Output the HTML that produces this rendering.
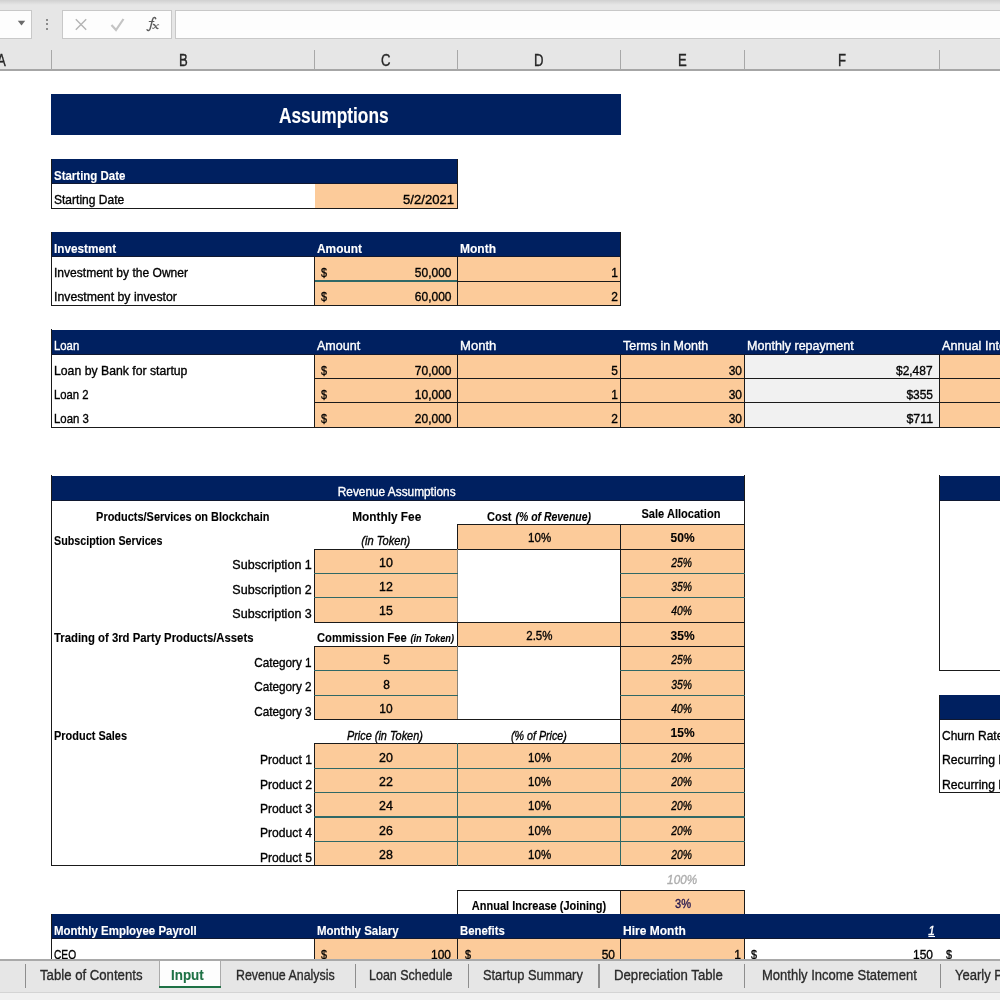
<!DOCTYPE html>
<html><head><meta charset="utf-8"><title>Assumptions</title>
<style>
html,body{margin:0;padding:0;background:#fff;}
body{width:1000px;height:1000px;position:relative;overflow:hidden;font-family:"Liberation Sans",sans-serif;}
#wrap{position:absolute;left:-30px;top:-30px;width:1060px;height:1060px;background:#fff;filter:blur(0.4px);overflow:hidden;}
#sheet,#top,#tabs{position:absolute;left:30px;top:30px;width:1030px;height:1030px;}
#sheet div,#top div,#tabs div,svg{position:absolute;}
.t{white-space:pre;-webkit-text-stroke:0.35px currentColor;}
.tb{-webkit-text-stroke:0.12px currentColor;}
.fx{white-space:pre;-webkit-text-stroke:0.2px currentColor;}
</style></head><body>
<div id="wrap">
<div id="sheet">
<div style="left:51.20px;top:94.20px;width:569.60px;height:40.80px;background:#002060;"></div>
<div class="t tb" style="top:104px;font-size:21.4px;line-height:24px;height:24px;font-weight:bold;font-style:normal;color:#fff;white-space:pre;left:266.32px;width:135.55px;text-align:center;transform:scaleX(0.8100);transform-origin:50% 0;">Assumptions</div>
<div style="left:51.50px;top:159.30px;width:406.00px;height:24.36px;background:#002060;"></div>
<div style="left:314.50px;top:183.66px;width:143.00px;height:24.36px;background:#FCCB9A;"></div>
<div class="t tb" style="top:169px;font-size:12.6px;line-height:14px;height:14px;font-weight:bold;font-style:normal;color:#fff;white-space:pre;left:53.80px;transform:scaleX(0.9118);transform-origin:0 0;">Starting Date</div>
<div class="t" style="top:193px;font-size:12.6px;line-height:14px;height:14px;font-weight:normal;font-style:normal;color:#000;white-space:pre;left:53.80px;transform:scaleX(0.9546);transform-origin:0 0;">Starting Date</div>
<div class="t" style="top:193px;font-size:12.6px;line-height:14px;height:14px;font-weight:normal;font-style:normal;color:#000;white-space:pre;right:575.50px;transform:scaleX(1.0398);transform-origin:100% 0;">5/2/2021</div>
<div style="left:51.00px;top:207.52px;width:407.00px;height:1.00px;background:#1a1a1a;"></div>
<div style="left:51.00px;top:158.80px;width:1.00px;height:49.72px;background:#1a1a1a;"></div>
<div style="left:457.00px;top:158.80px;width:1.00px;height:49.72px;background:#1a1a1a;"></div>
<div style="left:51.00px;top:183.16px;width:407.00px;height:1.00px;background:#101830;"></div>
<div style="left:51.50px;top:232.38px;width:569.00px;height:24.36px;background:#002060;"></div>
<div style="left:314.50px;top:256.74px;width:306.00px;height:48.72px;background:#FCCB9A;"></div>
<div class="t tb" style="top:242px;font-size:12.6px;line-height:14px;height:14px;font-weight:bold;font-style:normal;color:#fff;white-space:pre;left:53.90px;transform:scaleX(0.9335);transform-origin:0 0;">Investment</div>
<div class="t tb" style="top:242px;font-size:12.6px;line-height:14px;height:14px;font-weight:bold;font-style:normal;color:#fff;white-space:pre;left:316.50px;transform:scaleX(0.9456);transform-origin:0 0;">Amount</div>
<div class="t tb" style="top:242px;font-size:12.6px;line-height:14px;height:14px;font-weight:bold;font-style:normal;color:#fff;white-space:pre;left:460.00px;transform:scaleX(0.9554);transform-origin:0 0;">Month</div>
<div class="t" style="top:266px;font-size:12.6px;line-height:14px;height:14px;font-weight:normal;font-style:normal;color:#000;white-space:pre;left:53.90px;transform:scaleX(0.9574);transform-origin:0 0;">Investment by the Owner</div>
<div class="t" style="top:266px;font-size:12.6px;line-height:14px;height:14px;font-weight:normal;font-style:normal;color:#000;white-space:pre;left:320.50px;transform:scaleX(0.8562);transform-origin:0 0;">$</div>
<div class="t" style="top:266px;font-size:12.6px;line-height:14px;height:14px;font-weight:normal;font-style:normal;color:#000;white-space:pre;right:578.80px;transform:scaleX(0.9523);transform-origin:100% 0;">50,000</div>
<div class="t" style="top:266px;font-size:12.6px;line-height:14px;height:14px;font-weight:normal;font-style:normal;color:#000;white-space:pre;right:412.20px;transform:scaleX(0.9496);transform-origin:100% 0;">1</div>
<div class="t" style="top:290px;font-size:12.6px;line-height:14px;height:14px;font-weight:normal;font-style:normal;color:#000;white-space:pre;left:53.90px;transform:scaleX(0.9757);transform-origin:0 0;">Investment by investor</div>
<div class="t" style="top:290px;font-size:12.6px;line-height:14px;height:14px;font-weight:normal;font-style:normal;color:#000;white-space:pre;left:320.50px;transform:scaleX(0.8562);transform-origin:0 0;">$</div>
<div class="t" style="top:290px;font-size:12.6px;line-height:14px;height:14px;font-weight:normal;font-style:normal;color:#000;white-space:pre;right:578.80px;transform:scaleX(0.9523);transform-origin:100% 0;">60,000</div>
<div class="t" style="top:290px;font-size:12.6px;line-height:14px;height:14px;font-weight:normal;font-style:normal;color:#000;white-space:pre;right:412.20px;transform:scaleX(0.9496);transform-origin:100% 0;">2</div>
<div style="left:314.00px;top:280.48px;width:144.00px;height:1.25px;background:#2f6866;"></div>
<div style="left:457.00px;top:280.60px;width:164.00px;height:1.00px;background:#1a1a1a;"></div>
<div style="left:314.00px;top:256.24px;width:1.00px;height:49.72px;background:#1a1a1a;"></div>
<div style="left:457.00px;top:256.24px;width:1.00px;height:49.72px;background:#1a1a1a;"></div>
<div style="left:51.00px;top:304.96px;width:570.00px;height:1.00px;background:#1a1a1a;"></div>
<div style="left:51.00px;top:231.88px;width:1.00px;height:74.08px;background:#1a1a1a;"></div>
<div style="left:620.00px;top:231.88px;width:1.00px;height:74.08px;background:#1a1a1a;"></div>
<div style="left:51.00px;top:256.24px;width:570.00px;height:1.00px;background:#101830;"></div>
<div style="left:51.50px;top:329.82px;width:978.50px;height:24.36px;background:#002060;"></div>
<div style="left:314.50px;top:354.18px;width:430.00px;height:73.08px;background:#FCCB9A;"></div>
<div style="left:744.50px;top:354.18px;width:195.00px;height:73.08px;background:#F1F1F1;"></div>
<div style="left:939.50px;top:354.18px;width:90.50px;height:73.08px;background:#FCCB9A;"></div>
<div class="t" style="top:339px;font-size:12.6px;line-height:14px;height:14px;font-weight:normal;font-style:normal;color:#fff;white-space:pre;left:53.90px;transform:scaleX(0.8990);transform-origin:0 0;">Loan</div>
<div class="t" style="top:339px;font-size:12.6px;line-height:14px;height:14px;font-weight:normal;font-style:normal;color:#fff;white-space:pre;left:316.50px;transform:scaleX(0.9949);transform-origin:0 0;">Amount</div>
<div class="t" style="top:339px;font-size:12.6px;line-height:14px;height:14px;font-weight:normal;font-style:normal;color:#fff;white-space:pre;left:460.00px;transform:scaleX(1.0378);transform-origin:0 0;">Month</div>
<div class="t" style="top:339px;font-size:12.6px;line-height:14px;height:14px;font-weight:normal;font-style:normal;color:#fff;white-space:pre;left:622.50px;transform:scaleX(0.9907);transform-origin:0 0;">Terms in Month</div>
<div class="t" style="top:339px;font-size:12.6px;line-height:14px;height:14px;font-weight:normal;font-style:normal;color:#fff;white-space:pre;left:746.50px;transform:scaleX(0.9970);transform-origin:0 0;">Monthly repayment</div>
<div class="t" style="top:339px;font-size:12.6px;line-height:14px;height:14px;font-weight:normal;font-style:normal;color:#fff;white-space:pre;left:942.10px;transform:scaleX(1.0046);transform-origin:0 0;">Annual Interest</div>
<div class="t" style="top:364px;font-size:12.6px;line-height:14px;height:14px;font-weight:normal;font-style:normal;color:#000;white-space:pre;left:53.90px;transform:scaleX(0.9724);transform-origin:0 0;">Loan by Bank for startup</div>
<div class="t" style="top:364px;font-size:12.6px;line-height:14px;height:14px;font-weight:normal;font-style:normal;color:#000;white-space:pre;left:320.50px;transform:scaleX(0.8562);transform-origin:0 0;">$</div>
<div class="t" style="top:364px;font-size:12.6px;line-height:14px;height:14px;font-weight:normal;font-style:normal;color:#000;white-space:pre;right:578.80px;transform:scaleX(0.9523);transform-origin:100% 0;">70,000</div>
<div class="t" style="top:364px;font-size:12.6px;line-height:14px;height:14px;font-weight:normal;font-style:normal;color:#000;white-space:pre;right:412.20px;transform:scaleX(0.9496);transform-origin:100% 0;">5</div>
<div class="t" style="top:364px;font-size:12.6px;line-height:14px;height:14px;font-weight:normal;font-style:normal;color:#000;white-space:pre;right:288.20px;transform:scaleX(0.9496);transform-origin:100% 0;">30</div>
<div class="t" style="top:364px;font-size:12.6px;line-height:14px;height:14px;font-weight:normal;font-style:normal;color:#000;white-space:pre;right:97.10px;transform:scaleX(0.9484);transform-origin:100% 0;">$2,487</div>
<div class="t" style="top:388px;font-size:12.6px;line-height:14px;height:14px;font-weight:normal;font-style:normal;color:#000;white-space:pre;left:53.90px;transform:scaleX(0.8952);transform-origin:0 0;">Loan 2</div>
<div class="t" style="top:388px;font-size:12.6px;line-height:14px;height:14px;font-weight:normal;font-style:normal;color:#000;white-space:pre;left:320.50px;transform:scaleX(0.8562);transform-origin:0 0;">$</div>
<div class="t" style="top:388px;font-size:12.6px;line-height:14px;height:14px;font-weight:normal;font-style:normal;color:#000;white-space:pre;right:578.80px;transform:scaleX(0.9523);transform-origin:100% 0;">10,000</div>
<div class="t" style="top:388px;font-size:12.6px;line-height:14px;height:14px;font-weight:normal;font-style:normal;color:#000;white-space:pre;right:412.20px;transform:scaleX(0.9496);transform-origin:100% 0;">1</div>
<div class="t" style="top:388px;font-size:12.6px;line-height:14px;height:14px;font-weight:normal;font-style:normal;color:#000;white-space:pre;right:288.20px;transform:scaleX(0.9496);transform-origin:100% 0;">30</div>
<div class="t" style="top:388px;font-size:12.6px;line-height:14px;height:14px;font-weight:normal;font-style:normal;color:#000;white-space:pre;right:97.10px;transform:scaleX(0.9496);transform-origin:100% 0;">$355</div>
<div class="t" style="top:412px;font-size:12.6px;line-height:14px;height:14px;font-weight:normal;font-style:normal;color:#000;white-space:pre;left:53.90px;transform:scaleX(0.9030);transform-origin:0 0;">Loan 3</div>
<div class="t" style="top:412px;font-size:12.6px;line-height:14px;height:14px;font-weight:normal;font-style:normal;color:#000;white-space:pre;left:320.50px;transform:scaleX(0.8562);transform-origin:0 0;">$</div>
<div class="t" style="top:412px;font-size:12.6px;line-height:14px;height:14px;font-weight:normal;font-style:normal;color:#000;white-space:pre;right:578.80px;transform:scaleX(0.9523);transform-origin:100% 0;">20,000</div>
<div class="t" style="top:412px;font-size:12.6px;line-height:14px;height:14px;font-weight:normal;font-style:normal;color:#000;white-space:pre;right:412.20px;transform:scaleX(0.9496);transform-origin:100% 0;">2</div>
<div class="t" style="top:412px;font-size:12.6px;line-height:14px;height:14px;font-weight:normal;font-style:normal;color:#000;white-space:pre;right:288.20px;transform:scaleX(0.9496);transform-origin:100% 0;">30</div>
<div class="t" style="top:412px;font-size:12.6px;line-height:14px;height:14px;font-weight:normal;font-style:normal;color:#000;white-space:pre;right:97.10px;transform:scaleX(0.9824);transform-origin:100% 0;">$711</div>
<div style="left:314.00px;top:378.04px;width:716.50px;height:1.00px;background:#1a1a1a;"></div>
<div style="left:314.00px;top:402.40px;width:716.50px;height:1.00px;background:#1a1a1a;"></div>
<div style="left:314.00px;top:353.68px;width:1.00px;height:74.08px;background:#1a1a1a;"></div>
<div style="left:457.00px;top:353.68px;width:1.00px;height:74.08px;background:#1a1a1a;"></div>
<div style="left:620.00px;top:353.68px;width:1.00px;height:74.08px;background:#1a1a1a;"></div>
<div style="left:744.00px;top:353.68px;width:1.00px;height:74.08px;background:#1a1a1a;"></div>
<div style="left:939.00px;top:353.68px;width:1.00px;height:74.08px;background:#1a1a1a;"></div>
<div style="left:51.00px;top:426.76px;width:979.50px;height:1.00px;background:#1a1a1a;"></div>
<div style="left:51.00px;top:329.32px;width:1.00px;height:98.44px;background:#1a1a1a;"></div>
<div style="left:51.00px;top:353.68px;width:979.50px;height:1.00px;background:#101830;"></div>
<div style="left:51.50px;top:475.98px;width:693.00px;height:24.36px;background:#002060;"></div>
<div class="t" style="top:485px;font-size:12.6px;line-height:14px;height:14px;font-weight:normal;font-style:normal;color:#fff;white-space:pre;left:333.81px;width:125.38px;text-align:center;transform:scaleX(0.9407);transform-origin:50% 0;">Revenue Assumptions</div>
<div style="left:457.50px;top:524.70px;width:287.00px;height:24.36px;background:#FCCB9A;"></div>
<div style="left:314.50px;top:549.06px;width:143.00px;height:73.08px;background:#FCCB9A;"></div>
<div style="left:620.50px;top:549.06px;width:124.00px;height:73.08px;background:#FCCB9A;"></div>
<div style="left:457.50px;top:622.14px;width:287.00px;height:24.36px;background:#FCCB9A;"></div>
<div style="left:314.50px;top:646.50px;width:143.00px;height:73.08px;background:#FCCB9A;"></div>
<div style="left:620.50px;top:646.50px;width:124.00px;height:73.08px;background:#FCCB9A;"></div>
<div style="left:620.50px;top:719.58px;width:124.00px;height:24.36px;background:#FCCB9A;"></div>
<div style="left:314.50px;top:743.94px;width:430.00px;height:121.80px;background:#FCCB9A;"></div>
<div class="t tb" style="top:510px;font-size:12.6px;line-height:14px;height:14px;font-weight:bold;font-style:normal;color:#000;white-space:pre;left:83.31px;width:199.57px;text-align:center;transform:scaleX(0.8688);transform-origin:50% 0;">Products/Services on Blockchain</div>
<div class="t tb" style="top:510px;font-size:12.6px;line-height:14px;height:14px;font-weight:bold;font-style:normal;color:#000;white-space:pre;left:349.75px;width:73.50px;text-align:center;transform:scaleX(0.9387);transform-origin:50% 0;">Monthly Fee</div>
<div class="t tb" style="top:510px;font-size:12.6px;line-height:14px;height:14px;font-weight:bold;font-style:normal;color:#000;white-space:pre;left:486.70px;transform:scaleX(0.8750);transform-origin:0 0;">Cost</div>
<div class="t tb" style="top:510px;font-size:12.6px;line-height:14px;height:14px;font-weight:bold;font-style:italic;color:#000;white-space:pre;right:438.80px;transform:scaleX(0.8295);transform-origin:100% 0;">(% of Revenue)</div>
<div class="t tb" style="top:507px;font-size:12.6px;line-height:14px;height:14px;font-weight:bold;font-style:normal;color:#000;white-space:pre;left:636.37px;width:89.86px;text-align:center;transform:scaleX(0.8792);transform-origin:50% 0;">Sale Allocation</div>
<div class="t tb" style="top:534px;font-size:12.6px;line-height:14px;height:14px;font-weight:bold;font-style:normal;color:#000;white-space:pre;left:53.90px;transform:scaleX(0.8521);transform-origin:0 0;">Subsciption Services</div>
<div class="t" style="top:534px;font-size:12.6px;line-height:14px;height:14px;font-weight:normal;font-style:italic;color:#000;white-space:pre;left:358.02px;width:55.56px;text-align:center;transform:scaleX(0.8819);transform-origin:50% 0;">(in Token)</div>
<div class="t" style="top:531px;font-size:12.6px;line-height:14px;height:14px;font-weight:normal;font-style:normal;color:#000;white-space:pre;left:527.39px;width:25.22px;text-align:center;transform:scaleX(0.9120);transform-origin:50% 0;">10%</div>
<div class="t tb" style="top:531px;font-size:12.6px;line-height:14px;height:14px;font-weight:bold;font-style:normal;color:#000;white-space:pre;left:670.09px;width:25.22px;text-align:center;transform:scaleX(0.9517);transform-origin:50% 0;">50%</div>
<div class="t" style="top:558px;font-size:12.6px;line-height:14px;height:14px;font-weight:normal;font-style:normal;color:#000;white-space:pre;right:718.10px;transform:scaleX(0.9956);transform-origin:100% 0;">Subscription 1</div>
<div class="t" style="top:556px;font-size:12.6px;line-height:14px;height:14px;font-weight:normal;font-style:normal;color:#000;white-space:pre;left:379.49px;width:14.02px;text-align:center;transform:scaleX(0.9846);transform-origin:50% 0;">10</div>
<div class="t" style="top:556px;font-size:12.6px;line-height:14px;height:14px;font-weight:normal;font-style:italic;color:#000;white-space:pre;left:669.39px;width:25.22px;text-align:center;transform:scaleX(0.8208);transform-origin:50% 0;">25%</div>
<div class="t" style="top:583px;font-size:12.6px;line-height:14px;height:14px;font-weight:normal;font-style:normal;color:#000;white-space:pre;right:718.10px;transform:scaleX(0.9956);transform-origin:100% 0;">Subscription 2</div>
<div class="t" style="top:580px;font-size:12.6px;line-height:14px;height:14px;font-weight:normal;font-style:normal;color:#000;white-space:pre;left:379.49px;width:14.02px;text-align:center;transform:scaleX(0.9846);transform-origin:50% 0;">12</div>
<div class="t" style="top:580px;font-size:12.6px;line-height:14px;height:14px;font-weight:normal;font-style:italic;color:#000;white-space:pre;left:669.39px;width:25.22px;text-align:center;transform:scaleX(0.8208);transform-origin:50% 0;">35%</div>
<div class="t" style="top:607px;font-size:12.6px;line-height:14px;height:14px;font-weight:normal;font-style:normal;color:#000;white-space:pre;right:718.10px;transform:scaleX(0.9956);transform-origin:100% 0;">Subscription 3</div>
<div class="t" style="top:604px;font-size:12.6px;line-height:14px;height:14px;font-weight:normal;font-style:normal;color:#000;white-space:pre;left:379.49px;width:14.02px;text-align:center;transform:scaleX(0.9846);transform-origin:50% 0;">15</div>
<div class="t" style="top:604px;font-size:12.6px;line-height:14px;height:14px;font-weight:normal;font-style:italic;color:#000;white-space:pre;left:669.39px;width:25.22px;text-align:center;transform:scaleX(0.8208);transform-origin:50% 0;">40%</div>
<div class="t tb" style="top:631px;font-size:12.6px;line-height:14px;height:14px;font-weight:bold;font-style:normal;color:#000;white-space:pre;left:53.90px;transform:scaleX(0.8992);transform-origin:0 0;">Trading of 3rd Party Products/Assets</div>
<div class="t tb" style="top:631px;font-size:12.6px;line-height:14px;height:14px;font-weight:bold;font-style:normal;color:#000;white-space:pre;left:316.50px;transform:scaleX(0.8897);transform-origin:0 0;">Commission Fee</div>
<div class="t tb" style="top:632px;font-size:11.2px;line-height:12px;height:12px;font-weight:bold;font-style:italic;color:#000;white-space:pre;right:576.30px;transform:scaleX(0.8231);transform-origin:100% 0;">(in Token)</div>
<div class="t" style="top:629px;font-size:12.6px;line-height:14px;height:14px;font-weight:normal;font-style:normal;color:#000;white-space:pre;left:525.04px;width:28.72px;text-align:center;transform:scaleX(0.9123);transform-origin:50% 0;">2.5%</div>
<div class="t tb" style="top:629px;font-size:12.6px;line-height:14px;height:14px;font-weight:bold;font-style:normal;color:#000;white-space:pre;left:670.09px;width:25.22px;text-align:center;transform:scaleX(0.9517);transform-origin:50% 0;">35%</div>
<div class="t" style="top:656px;font-size:12.6px;line-height:14px;height:14px;font-weight:normal;font-style:normal;color:#000;white-space:pre;right:718.10px;transform:scaleX(0.9324);transform-origin:100% 0;">Category 1</div>
<div class="t" style="top:653px;font-size:12.6px;line-height:14px;height:14px;font-weight:normal;font-style:normal;color:#000;white-space:pre;left:383.00px;width:7.01px;text-align:center;transform:scaleX(0.9496);transform-origin:50% 0;">5</div>
<div class="t" style="top:653px;font-size:12.6px;line-height:14px;height:14px;font-weight:normal;font-style:italic;color:#000;white-space:pre;left:669.39px;width:25.22px;text-align:center;transform:scaleX(0.8208);transform-origin:50% 0;">25%</div>
<div class="t" style="top:680px;font-size:12.6px;line-height:14px;height:14px;font-weight:normal;font-style:normal;color:#000;white-space:pre;right:718.10px;transform:scaleX(0.9324);transform-origin:100% 0;">Category 2</div>
<div class="t" style="top:678px;font-size:12.6px;line-height:14px;height:14px;font-weight:normal;font-style:normal;color:#000;white-space:pre;left:383.00px;width:7.01px;text-align:center;transform:scaleX(0.9496);transform-origin:50% 0;">8</div>
<div class="t" style="top:678px;font-size:12.6px;line-height:14px;height:14px;font-weight:normal;font-style:italic;color:#000;white-space:pre;left:669.39px;width:25.22px;text-align:center;transform:scaleX(0.8208);transform-origin:50% 0;">35%</div>
<div class="t" style="top:705px;font-size:12.6px;line-height:14px;height:14px;font-weight:normal;font-style:normal;color:#000;white-space:pre;right:718.10px;transform:scaleX(0.9324);transform-origin:100% 0;">Category 3</div>
<div class="t" style="top:702px;font-size:12.6px;line-height:14px;height:14px;font-weight:normal;font-style:normal;color:#000;white-space:pre;left:379.49px;width:14.02px;text-align:center;transform:scaleX(0.9496);transform-origin:50% 0;">10</div>
<div class="t" style="top:702px;font-size:12.6px;line-height:14px;height:14px;font-weight:normal;font-style:italic;color:#000;white-space:pre;left:669.39px;width:25.22px;text-align:center;transform:scaleX(0.8208);transform-origin:50% 0;">40%</div>
<div class="t tb" style="top:729px;font-size:12.6px;line-height:14px;height:14px;font-weight:bold;font-style:normal;color:#000;white-space:pre;left:53.90px;transform:scaleX(0.8699);transform-origin:0 0;">Product Sales</div>
<div class="t" style="top:729px;font-size:12.6px;line-height:14px;height:14px;font-weight:normal;font-style:italic;color:#000;white-space:pre;left:341.41px;width:87.77px;text-align:center;transform:scaleX(0.8659);transform-origin:50% 0;">Price (in Token)</div>
<div class="t" style="top:729px;font-size:12.6px;line-height:14px;height:14px;font-weight:normal;font-style:italic;color:#000;white-space:pre;left:505.79px;width:65.81px;text-align:center;transform:scaleX(0.8509);transform-origin:50% 0;">(% of Price)</div>
<div class="t tb" style="top:726px;font-size:12.6px;line-height:14px;height:14px;font-weight:bold;font-style:normal;color:#000;white-space:pre;left:670.09px;width:25.22px;text-align:center;transform:scaleX(0.9517);transform-origin:50% 0;">15%</div>
<div class="t" style="top:753px;font-size:12.6px;line-height:14px;height:14px;font-weight:normal;font-style:normal;color:#000;white-space:pre;right:718.10px;transform:scaleX(0.9642);transform-origin:100% 0;">Product 1</div>
<div class="t" style="top:751px;font-size:12.6px;line-height:14px;height:14px;font-weight:normal;font-style:normal;color:#000;white-space:pre;left:379.49px;width:14.02px;text-align:center;transform:scaleX(0.9846);transform-origin:50% 0;">20</div>
<div class="t" style="top:751px;font-size:12.6px;line-height:14px;height:14px;font-weight:normal;font-style:normal;color:#000;white-space:pre;left:527.39px;width:25.22px;text-align:center;transform:scaleX(0.9120);transform-origin:50% 0;">10%</div>
<div class="t" style="top:751px;font-size:12.6px;line-height:14px;height:14px;font-weight:normal;font-style:italic;color:#000;white-space:pre;left:669.39px;width:25.22px;text-align:center;transform:scaleX(0.8208);transform-origin:50% 0;">20%</div>
<div class="t" style="top:778px;font-size:12.6px;line-height:14px;height:14px;font-weight:normal;font-style:normal;color:#000;white-space:pre;right:718.10px;transform:scaleX(0.9642);transform-origin:100% 0;">Product 2</div>
<div class="t" style="top:775px;font-size:12.6px;line-height:14px;height:14px;font-weight:normal;font-style:normal;color:#000;white-space:pre;left:379.49px;width:14.02px;text-align:center;transform:scaleX(0.9846);transform-origin:50% 0;">22</div>
<div class="t" style="top:775px;font-size:12.6px;line-height:14px;height:14px;font-weight:normal;font-style:normal;color:#000;white-space:pre;left:527.39px;width:25.22px;text-align:center;transform:scaleX(0.9120);transform-origin:50% 0;">10%</div>
<div class="t" style="top:775px;font-size:12.6px;line-height:14px;height:14px;font-weight:normal;font-style:italic;color:#000;white-space:pre;left:669.39px;width:25.22px;text-align:center;transform:scaleX(0.8208);transform-origin:50% 0;">20%</div>
<div class="t" style="top:802px;font-size:12.6px;line-height:14px;height:14px;font-weight:normal;font-style:normal;color:#000;white-space:pre;right:718.10px;transform:scaleX(0.9642);transform-origin:100% 0;">Product 3</div>
<div class="t" style="top:799px;font-size:12.6px;line-height:14px;height:14px;font-weight:normal;font-style:normal;color:#000;white-space:pre;left:379.49px;width:14.02px;text-align:center;transform:scaleX(0.9846);transform-origin:50% 0;">24</div>
<div class="t" style="top:799px;font-size:12.6px;line-height:14px;height:14px;font-weight:normal;font-style:normal;color:#000;white-space:pre;left:527.39px;width:25.22px;text-align:center;transform:scaleX(0.9120);transform-origin:50% 0;">10%</div>
<div class="t" style="top:799px;font-size:12.6px;line-height:14px;height:14px;font-weight:normal;font-style:italic;color:#000;white-space:pre;left:669.39px;width:25.22px;text-align:center;transform:scaleX(0.8208);transform-origin:50% 0;">20%</div>
<div class="t" style="top:826px;font-size:12.6px;line-height:14px;height:14px;font-weight:normal;font-style:normal;color:#000;white-space:pre;right:718.10px;transform:scaleX(0.9642);transform-origin:100% 0;">Product 4</div>
<div class="t" style="top:824px;font-size:12.6px;line-height:14px;height:14px;font-weight:normal;font-style:normal;color:#000;white-space:pre;left:379.49px;width:14.02px;text-align:center;transform:scaleX(0.9846);transform-origin:50% 0;">26</div>
<div class="t" style="top:824px;font-size:12.6px;line-height:14px;height:14px;font-weight:normal;font-style:normal;color:#000;white-space:pre;left:527.39px;width:25.22px;text-align:center;transform:scaleX(0.9120);transform-origin:50% 0;">10%</div>
<div class="t" style="top:824px;font-size:12.6px;line-height:14px;height:14px;font-weight:normal;font-style:italic;color:#000;white-space:pre;left:669.39px;width:25.22px;text-align:center;transform:scaleX(0.8208);transform-origin:50% 0;">20%</div>
<div class="t" style="top:851px;font-size:12.6px;line-height:14px;height:14px;font-weight:normal;font-style:normal;color:#000;white-space:pre;right:718.10px;transform:scaleX(0.9642);transform-origin:100% 0;">Product 5</div>
<div class="t" style="top:848px;font-size:12.6px;line-height:14px;height:14px;font-weight:normal;font-style:normal;color:#000;white-space:pre;left:379.49px;width:14.02px;text-align:center;transform:scaleX(0.9846);transform-origin:50% 0;">28</div>
<div class="t" style="top:848px;font-size:12.6px;line-height:14px;height:14px;font-weight:normal;font-style:normal;color:#000;white-space:pre;left:527.39px;width:25.22px;text-align:center;transform:scaleX(0.9120);transform-origin:50% 0;">10%</div>
<div class="t" style="top:848px;font-size:12.6px;line-height:14px;height:14px;font-weight:normal;font-style:italic;color:#000;white-space:pre;left:669.39px;width:25.22px;text-align:center;transform:scaleX(0.8208);transform-origin:50% 0;">20%</div>
<div style="left:51.00px;top:475.48px;width:1.00px;height:390.76px;background:#1a1a1a;"></div>
<div style="left:744.00px;top:475.48px;width:1.00px;height:390.76px;background:#1a1a1a;"></div>
<div style="left:51.00px;top:865.24px;width:694.00px;height:1.00px;background:#1a1a1a;"></div>
<div style="left:51.00px;top:499.84px;width:694.00px;height:1.00px;background:#101830;"></div>
<div style="left:457.00px;top:524.20px;width:288.00px;height:1.00px;background:#1a1a1a;"></div>
<div style="left:314.00px;top:548.56px;width:431.00px;height:1.00px;background:#1a1a1a;"></div>
<div style="left:457.00px;top:524.20px;width:1.00px;height:25.36px;background:#1a1a1a;"></div>
<div style="left:620.00px;top:524.20px;width:1.00px;height:342.04px;background:#1a1a1a;"></div>
<div style="left:314.00px;top:548.56px;width:1.00px;height:74.08px;background:#1a1a1a;"></div>
<div style="left:457.00px;top:548.56px;width:1.00px;height:74.08px;background:#8a8478;"></div>
<div style="left:314.00px;top:572.80px;width:144.00px;height:1.25px;background:#2f6866;"></div>
<div style="left:620.00px;top:572.80px;width:125.00px;height:1.25px;background:#2f6866;"></div>
<div style="left:314.00px;top:597.15px;width:144.00px;height:1.25px;background:#2f6866;"></div>
<div style="left:620.00px;top:597.15px;width:125.00px;height:1.25px;background:#2f6866;"></div>
<div style="left:314.00px;top:621.64px;width:431.00px;height:1.00px;background:#1a1a1a;"></div>
<div style="left:457.00px;top:646.00px;width:288.00px;height:1.00px;background:#1a1a1a;"></div>
<div style="left:314.00px;top:646.00px;width:144.00px;height:1.00px;background:#1a1a1a;"></div>
<div style="left:457.00px;top:621.64px;width:1.00px;height:25.36px;background:#1a1a1a;"></div>
<div style="left:314.00px;top:646.00px;width:1.00px;height:74.08px;background:#1a1a1a;"></div>
<div style="left:457.00px;top:646.00px;width:1.00px;height:74.08px;background:#8a8478;"></div>
<div style="left:314.00px;top:670.24px;width:144.00px;height:1.25px;background:#2f6866;"></div>
<div style="left:620.00px;top:670.24px;width:125.00px;height:1.25px;background:#2f6866;"></div>
<div style="left:314.00px;top:694.60px;width:144.00px;height:1.25px;background:#2f6866;"></div>
<div style="left:620.00px;top:694.60px;width:125.00px;height:1.25px;background:#2f6866;"></div>
<div style="left:314.00px;top:719.08px;width:431.00px;height:1.00px;background:#1a1a1a;"></div>
<div style="left:314.00px;top:743.44px;width:431.00px;height:1.00px;background:#1a1a1a;"></div>
<div style="left:314.00px;top:743.44px;width:1.00px;height:122.80px;background:#1a1a1a;"></div>
<div style="left:456.88px;top:743.44px;width:1.25px;height:122.80px;background:#2f6866;"></div>
<div style="left:314.00px;top:767.67px;width:431.00px;height:1.25px;background:#2f6866;"></div>
<div style="left:314.00px;top:792.04px;width:431.00px;height:1.25px;background:#2f6866;"></div>
<div style="left:314.00px;top:816.39px;width:431.00px;height:1.25px;background:#2f6866;"></div>
<div style="left:314.00px;top:840.75px;width:431.00px;height:1.25px;background:#2f6866;"></div>
<div style="left:619.88px;top:743.44px;width:1.25px;height:122.80px;background:#2f6866;"></div>
<div class="t" style="top:873px;font-size:12.6px;line-height:14px;height:14px;font-weight:normal;font-style:italic;color:#adadad;white-space:pre;left:666.29px;width:32.23px;text-align:center;transform:scaleX(0.9309);transform-origin:50% 0;">100%</div>
<div style="left:620.50px;top:890.10px;width:124.00px;height:24.36px;background:#FCCB9A;"></div>
<div class="t tb" style="top:899px;font-size:12.6px;line-height:14px;height:14px;font-weight:bold;font-style:normal;color:#000;white-space:pre;left:462.19px;width:154.03px;text-align:center;transform:scaleX(0.8726);transform-origin:50% 0;">Annual Increase (Joining)</div>
<div class="t" style="top:897px;font-size:12.6px;line-height:14px;height:14px;font-weight:normal;font-style:normal;color:#24164e;white-space:pre;left:673.89px;width:18.21px;text-align:center;transform:scaleX(0.8808);transform-origin:50% 0;">3%</div>
<div style="left:457.00px;top:889.60px;width:288.00px;height:1.00px;background:#1a1a1a;"></div>
<div style="left:457.00px;top:889.60px;width:1.00px;height:25.36px;background:#1a1a1a;"></div>
<div style="left:620.00px;top:889.60px;width:1.00px;height:25.36px;background:#1a1a1a;"></div>
<div style="left:744.00px;top:889.60px;width:1.00px;height:25.36px;background:#1a1a1a;"></div>
<div style="left:51.50px;top:914.46px;width:978.50px;height:24.36px;background:#002060;"></div>
<div style="left:314.50px;top:938.82px;width:430.00px;height:36.54px;background:#FCCB9A;"></div>
<div class="t tb" style="top:924px;font-size:12.6px;line-height:14px;height:14px;font-weight:bold;font-style:normal;color:#fff;white-space:pre;left:53.90px;transform:scaleX(0.9096);transform-origin:0 0;">Monthly Employee Payroll</div>
<div class="t tb" style="top:924px;font-size:12.6px;line-height:14px;height:14px;font-weight:bold;font-style:normal;color:#fff;white-space:pre;left:316.50px;transform:scaleX(0.9109);transform-origin:0 0;">Monthly Salary</div>
<div class="t tb" style="top:924px;font-size:12.6px;line-height:14px;height:14px;font-weight:bold;font-style:normal;color:#fff;white-space:pre;left:459.70px;transform:scaleX(0.9012);transform-origin:0 0;">Benefits</div>
<div class="t tb" style="top:924px;font-size:12.6px;line-height:14px;height:14px;font-weight:bold;font-style:normal;color:#fff;white-space:pre;left:622.50px;transform:scaleX(0.9545);transform-origin:0 0;">Hire Month</div>
<div class="t" style="top:924px;font-size:12.6px;line-height:14px;height:14px;font-weight:normal;font-style:italic;color:#fff;white-space:pre;text-decoration:underline;right:94.50px;transform:scaleX(0.9496);transform-origin:100% 0;">1</div>
<div class="t" style="top:948px;font-size:12.6px;line-height:14px;height:14px;font-weight:normal;font-style:normal;color:#000;white-space:pre;left:53.90px;transform:scaleX(0.8096);transform-origin:0 0;">CEO</div>
<div class="t" style="top:948px;font-size:12.6px;line-height:14px;height:14px;font-weight:normal;font-style:normal;color:#000;white-space:pre;left:320.50px;transform:scaleX(0.8562);transform-origin:0 0;">$</div>
<div class="t" style="top:948px;font-size:12.6px;line-height:14px;height:14px;font-weight:normal;font-style:normal;color:#000;white-space:pre;right:578.80px;transform:scaleX(0.9496);transform-origin:100% 0;">100</div>
<div class="t" style="top:948px;font-size:12.6px;line-height:14px;height:14px;font-weight:normal;font-style:normal;color:#000;white-space:pre;left:464.50px;transform:scaleX(0.8562);transform-origin:0 0;">$</div>
<div class="t" style="top:948px;font-size:12.6px;line-height:14px;height:14px;font-weight:normal;font-style:normal;color:#000;white-space:pre;right:415.10px;transform:scaleX(0.9496);transform-origin:100% 0;">50</div>
<div class="t" style="top:948px;font-size:12.6px;line-height:14px;height:14px;font-weight:normal;font-style:normal;color:#000;white-space:pre;right:288.70px;transform:scaleX(0.9496);transform-origin:100% 0;">1</div>
<div class="t" style="top:948px;font-size:12.6px;line-height:14px;height:14px;font-weight:normal;font-style:normal;color:#000;white-space:pre;left:751.20px;transform:scaleX(0.8562);transform-origin:0 0;">$</div>
<div class="t" style="top:948px;font-size:12.6px;line-height:14px;height:14px;font-weight:normal;font-style:normal;color:#000;white-space:pre;right:96.50px;transform:scaleX(0.9496);transform-origin:100% 0;">150</div>
<div class="t" style="top:948px;font-size:12.6px;line-height:14px;height:14px;font-weight:normal;font-style:normal;color:#000;white-space:pre;left:946.20px;transform:scaleX(0.8562);transform-origin:0 0;">$</div>
<div style="left:51.00px;top:913.96px;width:1.00px;height:61.90px;background:#1a1a1a;"></div>
<div style="left:51.00px;top:938.32px;width:979.50px;height:1.00px;background:#101830;"></div>
<div style="left:314.00px;top:938.32px;width:1.00px;height:37.54px;background:#1a1a1a;"></div>
<div style="left:457.00px;top:938.32px;width:1.00px;height:37.54px;background:#1a1a1a;"></div>
<div style="left:620.00px;top:938.32px;width:1.00px;height:37.54px;background:#1a1a1a;"></div>
<div style="left:744.00px;top:938.32px;width:1.00px;height:37.54px;background:#1a1a1a;"></div>
<div style="left:939.50px;top:475.98px;width:90.50px;height:24.36px;background:#002060;"></div>
<div style="left:939.00px;top:475.48px;width:1.00px;height:195.88px;background:#1a1a1a;"></div>
<div style="left:939.00px;top:670.36px;width:91.50px;height:1.00px;background:#1a1a1a;"></div>
<div style="left:939.00px;top:499.84px;width:91.50px;height:1.00px;background:#101830;"></div>
<div style="left:939.50px;top:695.22px;width:90.50px;height:24.36px;background:#002060;"></div>
<div style="left:939.00px;top:694.72px;width:1.00px;height:98.44px;background:#1a1a1a;"></div>
<div style="left:939.00px;top:792.16px;width:91.50px;height:1.00px;background:#1a1a1a;"></div>
<div style="left:939.00px;top:719.08px;width:91.50px;height:1.00px;background:#101830;"></div>
<div class="t" style="top:729px;font-size:12.6px;line-height:14px;height:14px;font-weight:normal;font-style:normal;color:#000;white-space:pre;left:941.90px;transform:scaleX(0.9526);transform-origin:0 0;">Churn Rate</div>
<div class="t" style="top:753px;font-size:12.6px;line-height:14px;height:14px;font-weight:normal;font-style:normal;color:#000;white-space:pre;left:941.90px;transform:scaleX(0.9701);transform-origin:0 0;">Recurring Revenue</div>
<div class="t" style="top:778px;font-size:12.6px;line-height:14px;height:14px;font-weight:normal;font-style:normal;color:#000;white-space:pre;left:941.90px;transform:scaleX(0.9701);transform-origin:0 0;">Recurring Revenue</div>
</div>
<div id="top">
<div style="left:-30.00px;top:-30.00px;width:1060.00px;height:100.00px;background:#e6e6e6;"></div>
<div style="left:-30.00px;top:-30.00px;width:1060.00px;height:30.00px;background:#d0d0d0;"></div>
<div style="left:-30.00px;top:0.00px;width:1060.00px;height:5.00px;background:linear-gradient(#d0d0d0,#e6e6e6);"></div>
<div style="left:-32.00px;top:9.50px;width:64.00px;height:29.00px;background:#fdfdfd;border:1px solid #c8c8c8;box-sizing:border-box;"></div>
<div style="left:62.00px;top:9.50px;width:110.00px;height:29.00px;background:#fdfdfd;border:1px solid #c8c8c8;box-sizing:border-box;"></div>
<div style="left:175.00px;top:9.50px;width:857.00px;height:29.00px;background:#fdfdfd;border:1px solid #c8c8c8;box-sizing:border-box;"></div>
<div style="left:46.00px;top:18.50px;width:2.00px;height:2.00px;background:#8c8c8c;"></div>
<div style="left:46.00px;top:23.30px;width:2.00px;height:2.00px;background:#8c8c8c;"></div>
<div style="left:46.00px;top:28.10px;width:2.00px;height:2.00px;background:#8c8c8c;"></div>
<svg style="left:0;top:0" width="200" height="50" viewBox="0 0 200 50"><path d="M17.8 20.8 L25.2 20.8 L21.5 25.6 Z" fill="#6a6a6a"/><path d="M75.8 19.2 L86.2 29.8 M86.2 19.2 L75.8 29.8" stroke="#b4b4b4" stroke-width="1.4" fill="none"/><path d="M111.5 25 L116 30 L123.5 19" stroke="#c4c4c4" stroke-width="2.2" fill="none"/><g stroke="#5c5c5c" fill="none" stroke-linecap="round" stroke-linejoin="round"><path d="M155.7 18.7 C155.5 17.2 153.3 16.9 152.6 19.4 L150.2 28.6 C149.6 30.8 147.8 31.2 147.1 29.7" stroke-width="1.5"/><path d="M149.3 21.5 L153.9 21.5" stroke-width="1.2"/><path d="M153.5 24.5 C154.6 24.2 155 25 155.6 26.5 C156.2 28 156.7 28.8 157.9 28.4" stroke-width="1.5"/><path d="M158.8 24.7 C158 24.1 157 25.2 155.7 26.6 C154.4 28 153.4 29 152.5 28.3" stroke-width="1.0"/></g></svg>
<div style="left:-30.50px;top:69.40px;width:1061.00px;height:1.20px;background:#a6a6a6;"></div>
<div style="left:51.00px;top:50.00px;width:1.00px;height:20.00px;background:#a8a8a8;"></div>
<div style="left:314.00px;top:50.00px;width:1.00px;height:20.00px;background:#a8a8a8;"></div>
<div style="left:457.00px;top:50.00px;width:1.00px;height:20.00px;background:#a8a8a8;"></div>
<div style="left:620.00px;top:50.00px;width:1.00px;height:20.00px;background:#a8a8a8;"></div>
<div style="left:744.00px;top:50.00px;width:1.00px;height:20.00px;background:#a8a8a8;"></div>
<div style="left:939.00px;top:50.00px;width:1.00px;height:20.00px;background:#a8a8a8;"></div>
<div class="t" style="top:52px;font-size:16px;line-height:17px;height:17px;font-weight:normal;font-style:normal;color:#262626;white-space:pre;left:-3.84px;width:10.67px;text-align:center;transform:scaleX(0.8200);transform-origin:50% 0;">A</div>
<div class="t" style="top:52px;font-size:16px;line-height:17px;height:17px;font-weight:normal;font-style:normal;color:#262626;white-space:pre;left:177.66px;width:10.67px;text-align:center;transform:scaleX(0.8200);transform-origin:50% 0;">B</div>
<div class="t" style="top:52px;font-size:16px;line-height:17px;height:17px;font-weight:normal;font-style:normal;color:#262626;white-space:pre;left:380.42px;width:11.55px;text-align:center;transform:scaleX(0.8200);transform-origin:50% 0;">C</div>
<div class="t" style="top:52px;font-size:16px;line-height:17px;height:17px;font-weight:normal;font-style:normal;color:#262626;white-space:pre;left:533.22px;width:11.55px;text-align:center;transform:scaleX(0.8200);transform-origin:50% 0;">D</div>
<div class="t" style="top:52px;font-size:16px;line-height:17px;height:17px;font-weight:normal;font-style:normal;color:#262626;white-space:pre;left:676.96px;width:10.67px;text-align:center;transform:scaleX(0.8200);transform-origin:50% 0;">E</div>
<div class="t" style="top:52px;font-size:16px;line-height:17px;height:17px;font-weight:normal;font-style:normal;color:#262626;white-space:pre;left:836.61px;width:9.77px;text-align:center;transform:scaleX(0.8200);transform-origin:50% 0;">F</div>
</div>
<div id="tabs">
<div style="left:-30.00px;top:959.30px;width:1060.00px;height:33.20px;background:#e6e6e6;"></div>
<div style="left:-30.00px;top:992.50px;width:1060.00px;height:37.50px;background:#f1f1f1;"></div>
<div style="left:-30.50px;top:959.05px;width:1061.00px;height:1.90px;background:#a9a9a9;"></div>
<div style="left:-30.50px;top:992.00px;width:1061.00px;height:1.00px;background:#d4d4d4;"></div>
<div style="left:159.40px;top:960.90px;width:61.20px;height:27.10px;background:#fdfdfd;border-left:1px solid #ababab;border-right:1px solid #ababab;box-sizing:border-box;"></div>
<div style="left:159.40px;top:985.80px;width:61.20px;height:2.20px;background:#1e7145;"></div>
<div style="left:24.65px;top:964.00px;width:1.20px;height:23.50px;background:#8e8e8e;"></div>
<div style="left:355.00px;top:964.00px;width:1.20px;height:23.50px;background:#8e8e8e;"></div>
<div style="left:467.90px;top:964.00px;width:1.20px;height:23.50px;background:#8e8e8e;"></div>
<div style="left:598.40px;top:964.00px;width:1.20px;height:23.50px;background:#8e8e8e;"></div>
<div style="left:743.80px;top:964.00px;width:1.20px;height:23.50px;background:#8e8e8e;"></div>
<div style="left:940.10px;top:964.00px;width:1.20px;height:23.50px;background:#8e8e8e;"></div>
<div class="t" style="top:966px;font-size:15.5px;line-height:17px;height:17px;font-weight:normal;font-style:normal;color:#2a2a2a;white-space:pre;left:39.50px;transform:scaleX(0.8497);transform-origin:0 0;">Table of Contents</div>
<div class="t tb" style="top:966px;font-size:15.5px;line-height:17px;height:17px;font-weight:bold;font-style:normal;color:#1e7145;white-space:pre;left:170.80px;transform:scaleX(0.8634);transform-origin:0 0;">Input</div>
<div class="t" style="top:966px;font-size:15.5px;line-height:17px;height:17px;font-weight:normal;font-style:normal;color:#2a2a2a;white-space:pre;left:235.80px;transform:scaleX(0.8010);transform-origin:0 0;">Revenue Analysis</div>
<div class="t" style="top:966px;font-size:15.5px;line-height:17px;height:17px;font-weight:normal;font-style:normal;color:#2a2a2a;white-space:pre;left:368.70px;transform:scaleX(0.8064);transform-origin:0 0;">Loan Schedule</div>
<div class="t" style="top:966px;font-size:15.5px;line-height:17px;height:17px;font-weight:normal;font-style:normal;color:#2a2a2a;white-space:pre;left:482.70px;transform:scaleX(0.8275);transform-origin:0 0;">Startup Summary</div>
<div class="t" style="top:966px;font-size:15.5px;line-height:17px;height:17px;font-weight:normal;font-style:normal;color:#2a2a2a;white-space:pre;left:613.90px;transform:scaleX(0.8493);transform-origin:0 0;">Depreciation Table</div>
<div class="t" style="top:966px;font-size:15.5px;line-height:17px;height:17px;font-weight:normal;font-style:normal;color:#2a2a2a;white-space:pre;left:761.50px;transform:scaleX(0.8396);transform-origin:0 0;">Monthly Income Statement</div>
<div class="t" style="top:966px;font-size:15.5px;line-height:17px;height:17px;font-weight:normal;font-style:normal;color:#2a2a2a;white-space:pre;left:954.80px;transform:scaleX(0.8400);transform-origin:0 0;">Yearly Profit</div>
</div>
</div>
</body></html>
